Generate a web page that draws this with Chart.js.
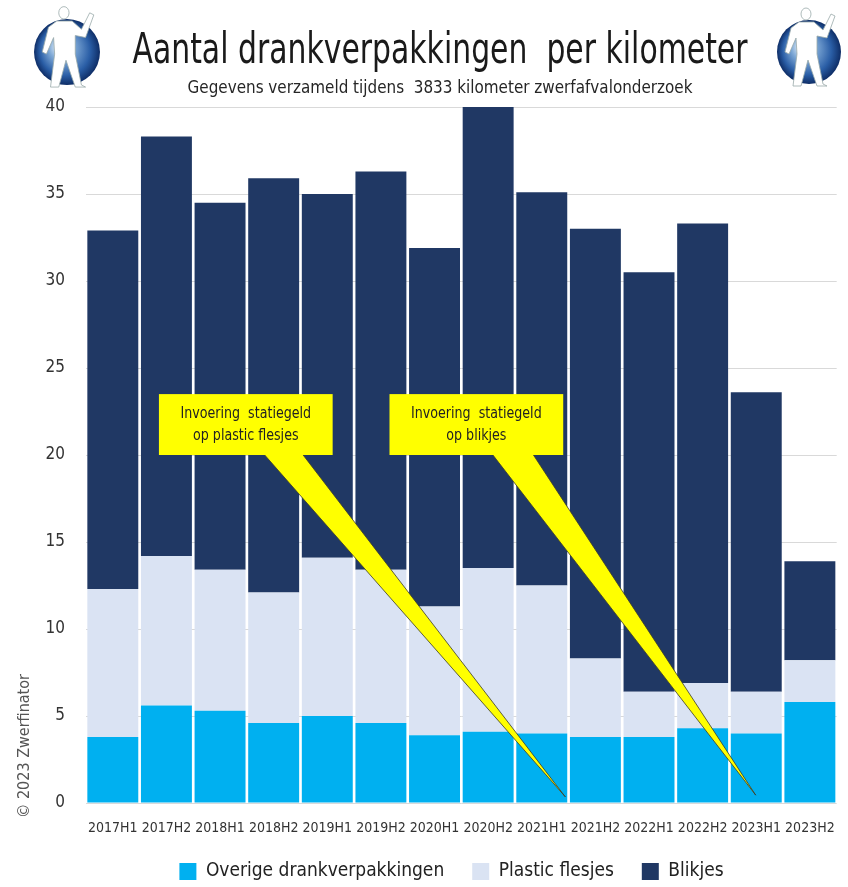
<!DOCTYPE html>
<html><head><meta charset="utf-8">
<script src="https://cdn.jsdelivr.net/npm/chart.js@4/dist/chart.umd.min.js"></script>
<style>html,body{margin:0;padding:0;background:#fff;}#wrap{width:848px;height:887px;}</style>
</head><body><div id="wrap"><canvas id="c" width="848" height="887"></canvas></div>
<script>
const titleText = 'Aantal drankverpakkingen  per kilometer';
const subtitleText = 'Gegevens verzameld tijdens  3833 kilometer zwerfafvalonderzoek';
const creditText = '© 2023 Zwerfinator';
const categories = ['2017H1','2017H2','2018H1','2018H2','2019H1','2019H2','2020H1','2020H2','2021H1','2021H2','2022H1','2022H2','2023H1','2023H2'];
const seriesNames = ['Overige drankverpakkingen','Plastic flesjes','Blikjes'];
const overige = [3.8, 5.6, 5.3, 4.6, 5.0, 4.6, 3.9, 4.1, 4.0, 3.8, 3.8, 4.3, 4.0, 5.8];
const plastic = [8.5, 8.6, 8.1, 7.5, 9.1, 8.8, 7.4, 9.4, 8.5, 4.5, 2.6, 2.6, 2.4, 2.4];
const blikjes = [20.6, 24.1, 21.1, 23.8, 20.9, 22.9, 20.6, 26.5, 22.6, 24.7, 24.1, 26.4, 17.2, 5.7];
const yMin = 0, yMax = 40, yStep = 5;
const calloutTexts = [['Invoering  statiegeld','op plastic flesjes'],['Invoering  statiegeld','op blikjes']];

const FONT = '"DejaVu Sans Condensed", "DejaVu Sans", sans-serif';
const colors = ['#00B0F0','#DAE3F3','#203864'];

// annotation geometry in data units (category index, value)
const calloutGeom = [
  {x0:0.86, x1:4.10, yTop:23.5, yBot:20.0, base:[2.80,3.52], tip:[8.44,0.35]},
  {x0:5.16, x1:8.40, yTop:23.5, yBot:20.0, base:[7.06,7.82], tip:[11.99,0.45]}
];

function drawLogo(ctx, cx, cy, r){
  ctx.save();
  const g = ctx.createRadialGradient(cx - r*0.25, cy - r*0.2, r*0.05, cx, cy, r);
  g.addColorStop(0,'#e6f0fa'); g.addColorStop(0.35,'#7fa9d6'); g.addColorStop(0.75,'#2a5ea6'); g.addColorStop(1,'#0e2d66');
  ctx.fillStyle = g; ctx.beginPath(); ctx.arc(cx, cy, r, 0, Math.PI*2); ctx.fill();
  ctx.fillStyle = '#fff'; ctx.strokeStyle = '#9aa'; ctx.lineWidth = 0.8;
  const s = r/32;
  ctx.beginPath();
  ctx.ellipse(cx - 3*s, cy - 38*s, 5*s, 6*s, 0, 0, Math.PI*2);
  ctx.fill(); ctx.stroke();
  ctx.beginPath();
  ctx.moveTo(cx - 10*s, cy - 30*s);
  ctx.lineTo(cx + 5*s, cy - 30*s);
  ctx.lineTo(cx + 14*s, cy - 22*s);
  ctx.lineTo(cx + 22*s, cy - 38*s);
  ctx.lineTo(cx + 26*s, cy - 36*s);
  ctx.lineTo(cx + 18*s, cy - 14*s);
  ctx.lineTo(cx + 8*s, cy - 16*s);
  ctx.lineTo(cx + 8*s, cy + 2*s);
  ctx.lineTo(cx + 14*s, cy + 32*s);
  ctx.lineTo(cx + 18*s, cy + 34*s);
  ctx.lineTo(cx + 8*s, cy + 34*s);
  ctx.lineTo(cx - 1*s, cy + 8*s);
  ctx.lineTo(cx - 8*s, cy + 34*s);
  ctx.lineTo(cx - 16*s, cy + 34*s);
  ctx.lineTo(cx - 12*s, cy + 2*s);
  ctx.lineTo(cx - 13*s, cy - 14*s);
  ctx.lineTo(cx - 20*s, cy + 2*s);
  ctx.lineTo(cx - 24*s, cy);
  ctx.lineTo(cx - 18*s, cy - 24*s);
  ctx.closePath();
  ctx.fill(); ctx.stroke();
  ctx.restore();
}

const LEGEND_SHIFT_X = 10, LEGEND_SHIFT_Y = -6;

const decorPlugin = {
  id: 'decor',
  afterLayout(chart){
    const lg = chart.legend;
    if (lg) { lg.left += LEGEND_SHIFT_X; lg.right += LEGEND_SHIFT_X; lg.top += LEGEND_SHIFT_Y; lg.bottom += LEGEND_SHIFT_Y; }
  },
  beforeDraw(chart){
    const ctx = chart.ctx;
    ctx.save();
    ctx.fillStyle = '#fff'; ctx.fillRect(0,0,chart.width,chart.height);
    ctx.restore();
  },
  afterDraw(chart){
    const ctx = chart.ctx;
    ctx.save();
    ctx.fillStyle = '#1a1a1a'; ctx.textAlign = 'center'; ctx.textBaseline = 'alphabetic';
    ctx.font = '42px ' + FONT;
    ctx.fillText(titleText, 440, 63, 615);
    ctx.font = '18px ' + FONT;
    ctx.fillStyle = '#262626';
    ctx.fillText(subtitleText, 440, 93, 505);
    ctx.translate(29, 818);
    ctx.rotate(-Math.PI/2);
    ctx.font = '16px ' + FONT; ctx.fillStyle = '#555'; ctx.textAlign = 'left'; ctx.textBaseline = 'alphabetic';
    ctx.fillText(creditText, 0, 0);
    ctx.restore();
    drawLogo(ctx, 67, 52, 33);
    drawLogo(ctx, 809, 52, 32);
  },
  afterDatasetsDraw(chart){
    const ctx = chart.ctx, xs = chart.scales.x, ys = chart.scales.y;
    ctx.save();
    calloutGeom.forEach((g, i) => {
      const bx0 = xs.getPixelForValue(g.x0), bx1 = xs.getPixelForValue(g.x1);
      const by0 = ys.getPixelForValue(g.yTop), by1 = ys.getPixelForValue(g.yBot);
      const wa = xs.getPixelForValue(g.base[0]), wb = xs.getPixelForValue(g.base[1]);
      const tx = xs.getPixelForValue(g.tip[0]), ty = ys.getPixelForValue(g.tip[1]);
      ctx.beginPath();
      ctx.moveTo(wa, by1 - 2); ctx.lineTo(tx, ty); ctx.lineTo(wb, by1 - 2); ctx.closePath();
      ctx.fillStyle = '#FFFF00'; ctx.fill();
      ctx.strokeStyle = '#3a3a2a'; ctx.lineWidth = 0.8; ctx.stroke();
      ctx.fillStyle = '#FFFF00';
      ctx.fillRect(bx0, by0, bx1 - bx0, by1 - by0);
      ctx.fillStyle = '#222'; ctx.font = '16px ' + FONT; ctx.textAlign = 'center'; ctx.textBaseline = 'middle';
      const cx = (bx0 + bx1)/2, cy = (by0 + by1)/2;
      const lines = calloutTexts[i];
      lines.forEach((t, k) => {
        const w = ctx.measureText(t).width * 0.88;
        ctx.fillText(t, cx, cy + (k - (lines.length-1)/2) * 22, w);
      });
    });
    ctx.restore();
  }
};

const datasets = [overige, plastic, blikjes].map((d, i) => ({
  label: seriesNames[i], data: d, backgroundColor: colors[i], borderWidth: 0,
  barPercentage: 0.95, categoryPercentage: 1.0, stack: 's'
}));

new Chart(document.getElementById('c'), {
  type: 'bar',
  data: { labels: categories, datasets },
  options: {
    responsive: false, animation: false, devicePixelRatio: 1,
    layout: { padding: { top: 107, left: 45, right: 10, bottom: -10 } },
    plugins: {
      title: { display: false },
      tooltip: { enabled: false },
      legend: {
        position: 'bottom',
        labels: { boxWidth: 17, boxHeight: 17, padding: 28, color: '#222', font: { family: FONT, size: 19 } }
      }
    },
    scales: {
      x: {
        stacked: true,
        afterFit: (scale) => { scale.height = 37; },
        grid: { display: false, drawTicks: false },
        border: { display: false },
        ticks: { color: '#333', font: { family: FONT, size: 14, lineHeight: 1.7 }, padding: 13, maxRotation: 0, autoSkip: false }
      },
      y: {
        stacked: true, min: yMin, max: yMax,
        afterFit: (scale) => { scale.width = 41; },
        grid: { color: '#d9d9d9', drawTicks: false },
        border: { display: false },
        ticks: { stepSize: yStep, color: '#333', padding: 21, font: { family: FONT, size: 17 } }
      }
    }
  },
  plugins: [decorPlugin]
});
</script></body></html>
